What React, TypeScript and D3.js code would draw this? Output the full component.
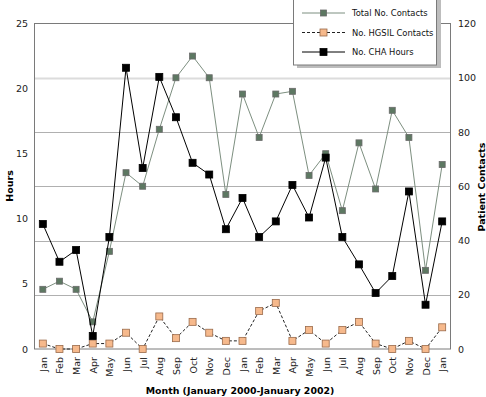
import React, { useEffect, useRef } from "react";
import * as d3 from "d3";

// Months Jan 2000 - Jan 2002
const months = [
  "Jan", "Feb", "Mar", "Apr", "May", "Jun", "Jul", "Aug", "Sep", "Oct", "Nov", "Dec",
  "Jan", "Feb", "Mar", "Apr", "May", "Jun", "Jul", "Aug", "Sep", "Oct", "Nov", "Dec",
  "Jan",
];

// Patient contacts (right axis)
const totalContacts = [22, 25, 22, 10, 36, 65, 60, 81, 100, 108, 100, 57, 94, 78, 94, 95, 64, 72, 51, 76, 59, 88, 78, 29, 68];
const hgsilContacts = [2, 0, 0, 2, 2, 6, 0, 12, 4, 10, 6, 3, 3, 14, 17, 3, 7, 2, 7, 10, 2, 0, 3, 0, 8];

// Hours (left axis)
const chaHours = [9.6, 6.7, 7.6, 1.0, 8.6, 21.6, 13.9, 20.9, 17.8, 14.3, 13.4, 9.2, 11.6, 8.6, 9.8, 12.6, 10.1, 14.7, 8.6, 6.5, 4.3, 5.6, 12.1, 3.4, 9.8];

const hoursTicks = [0, 5, 10, 15, 20, 25];
const contactTicks = [0, 20, 40, 60, 80, 100, 120];

const legendItems = ["Total No. Contacts", "No. HGSIL Contacts", "No. CHA Hours"];

export default function App() {
  const ref = useRef<SVGSVGElement>(null);

  useEffect(() => {
    drawChart(ref.current);
  }, []);

  return (
    <svg
      ref={ref}
      width={486}
      height={397}
      style={{ position: "absolute", left: 0, top: 0, background: "#fff" }}
    ></svg>
  );
}

function drawChart(node: SVGSVGElement | null) {
  if (!node) return;
  const svg = d3.select(node);
  svg.selectAll("*").remove();

  const font = "'DejaVu Sans', Verdana, sans-serif";
  const left = 34.5, right = 450.5, top = 23.5, bottom = 349;

  // x: one slot per month
  const x = d3
    .scaleBand<number>()
    .domain(months.map((_, i) => i))
    .range([left, right]);
  const cx = (i: number) => (x(i) as number) + x.bandwidth() / 2;

  const yHours = d3.scaleLinear().domain([0, 25]).range([bottom, top]);
  const yContacts = d3.scaleLinear().domain([0, 120]).range([bottom, top]);

  // Gridlines
  svg
    .append("g")
    .selectAll("line")
    .data(contactTicks.filter((t) => t > 0 && t < 120))
    .join("line")
    .attr("x1", left)
    .attr("x2", right)
    .attr("y1", (d) => Math.round(yContacts(d)) + 0.5)
    .attr("y2", (d) => Math.round(yContacts(d)) + 0.5)
    .attr("stroke", (d) => (d === 100 ? "#dcdcdc" : "#b0b0b0"))
    .attr("stroke-width", (d) => (d === 100 ? 2 : 1));

  // Frame
  svg
    .append("rect")
    .attr("x", left)
    .attr("y", top)
    .attr("width", right - left)
    .attr("height", bottom - top)
    .attr("fill", "none")
    .attr("stroke", "#7a7a7a")
    .attr("stroke-width", 1);

  // Left tick labels
  svg
    .append("g")
    .selectAll("text")
    .data(hoursTicks)
    .join("text")
    .attr("x", 28)
    .attr("y", (d) => yHours(d) + 3.5)
    .attr("text-anchor", "end")
    .attr("font-family", font)
    .attr("font-size", 9.5)
    .attr("fill", "#222")
    .text((d) => d);

  // Right tick labels
  svg
    .append("g")
    .selectAll("text")
    .data(contactTicks)
    .join("text")
    .attr("x", 458)
    .attr("y", (d) => yContacts(d) + 3.5)
    .attr("font-family", font)
    .attr("font-size", 9.5)
    .attr("fill", "#222")
    .text((d) => d);

  // Month labels
  svg
    .append("g")
    .selectAll("text")
    .data(months)
    .join("text")
    .attr("transform", (_, i) => `translate(${cx(i) + 4},357) rotate(-90)`)
    .attr("text-anchor", "end")
    .attr("font-family", font)
    .attr("font-size", 9.5)
    .attr("fill", "#222")
    .text((d) => d);

  // Axis titles
  svg
    .append("text")
    .attr("x", 240)
    .attr("y", 394)
    .attr("text-anchor", "middle")
    .attr("font-family", font)
    .attr("font-size", 9.4)
    .attr("font-weight", "bold")
    .text("Month (January 2000-January 2002)");

  svg
    .append("text")
    .attr("transform", "translate(13,186) rotate(-90)")
    .attr("text-anchor", "middle")
    .attr("font-family", font)
    .attr("font-size", 9.5)
    .attr("font-weight", "bold")
    .text("Hours");

  svg
    .append("text")
    .attr("transform", "translate(485,187) rotate(-90)")
    .attr("text-anchor", "middle")
    .attr("font-family", font)
    .attr("font-size", 9.5)
    .attr("font-weight", "bold")
    .text("Patient Contacts");

  const series = [
    { values: totalContacts, y: yContacts, line: "#7d8f80", dash: null, fill: "#5d7862", stroke: "#6a6a6a", size: 6 },
    { values: hgsilContacts, y: yContacts, line: "#222", dash: "3,2", fill: "#f6b98c", stroke: "#9a6a4a", size: 7 },
    { values: chaHours, y: yHours, line: "#000", dash: null, fill: "#000", stroke: "#000", size: 7 },
  ];

  series.forEach((s) => {
    const line = d3
      .line<number>()
      .x((_, i) => cx(i))
      .y((d) => s.y(d));
    svg
      .append("path")
      .attr("d", line(s.values))
      .attr("fill", "none")
      .attr("stroke", s.line)
      .attr("stroke-width", 1)
      .attr("stroke-dasharray", s.dash);
    svg
      .append("g")
      .selectAll("rect")
      .data(s.values)
      .join("rect")
      .attr("x", (_, i) => cx(i) - s.size / 2)
      .attr("y", (d) => s.y(d) - s.size / 2)
      .attr("width", s.size)
      .attr("height", s.size)
      .attr("fill", s.fill)
      .attr("stroke", s.stroke)
      .attr("stroke-width", 0.8);
  });

  // Legend
  const lg = svg.append("g");
  lg.append("rect")
    .attr("x", 297)
    .attr("y", -2)
    .attr("width", 144)
    .attr("height", 70)
    .attr("fill", "#bdbdbd");
  lg.append("rect")
    .attr("x", 293.5)
    .attr("y", -2)
    .attr("width", 143)
    .attr("height", 67)
    .attr("fill", "#fff")
    .attr("stroke", "#7a7a7a");

  legendItems.forEach((label, i) => {
    const s = series[i];
    const yy = 13 + i * 19.5;
    lg.append("line")
      .attr("x1", 302)
      .attr("x2", 345)
      .attr("y1", yy)
      .attr("y2", yy)
      .attr("stroke", s.line)
      .attr("stroke-dasharray", s.dash);
    lg.append("rect")
      .attr("x", 323.5 - s.size / 2)
      .attr("y", yy - s.size / 2)
      .attr("width", s.size)
      .attr("height", s.size)
      .attr("fill", s.fill)
      .attr("stroke", s.stroke)
      .attr("stroke-width", 0.8);
    lg.append("text")
      .attr("x", 352)
      .attr("y", yy + 3.2)
      .attr("font-family", font)
      .attr("font-size", 8.4)
      .attr("fill", "#111")
      .text(label);
  });
}
